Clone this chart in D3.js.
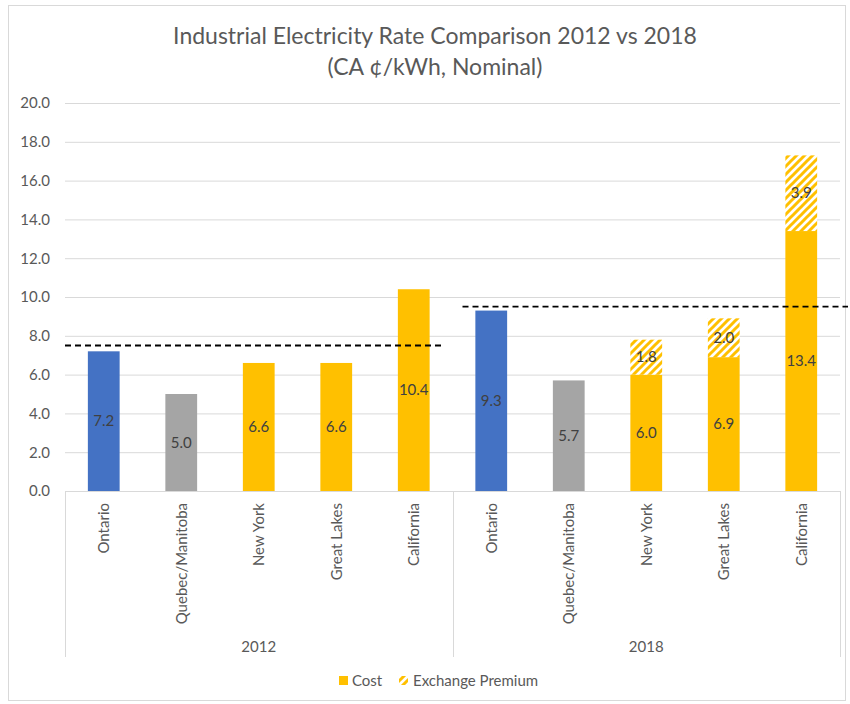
<!DOCTYPE html>
<html>
<head>
<meta charset="utf-8">
<script src="https://cdn.jsdelivr.net/npm/d3@7"></script>
<style>
  html, body { margin: 0; padding: 0; background: #fff; }
  text { font-family: Lato, "Open Sans", sans-serif; }
</style>
</head>
<body>
<svg id="chart" width="850" height="704"></svg>
<script>
const groups = ["2012", "2018"];
const categories = ["Ontario", "Quebec/Manitoba", "New York", "Great Lakes", "California"];
const cost2012 = [7.2, 5.0, 6.6, 6.6, 10.4];
const cost2018 = [9.3, 5.7, 6.0, 6.9, 13.4];
const premium2012 = [0, 0, 0, 0, 0];
const premium2018 = [0, 0, 1.8, 2.0, 3.9];
const averageLines = [7.5, 9.5];
const categoryColors = ["#4472C4", "#A5A5A5", "#FFC000", "#FFC000", "#FFC000"];
const yTicks = [0, 2, 4, 6, 8, 10, 12, 14, 16, 18, 20];
const titleLines = ["Industrial Electricity Rate Comparison 2012 vs 2018", "(CA \u00A2/kWh, Nominal)"];
const legendLabels = ["Cost", "Exchange Premium"];

(function () {
const svg = d3.select("#chart");
const W = 850, H = 704;
const mLeft = 65, mRight = 840, mTop = 103, mBottom = 491;

// frame
svg.append("rect").attr("x", 8.5).attr("y", 5.5).attr("width", W - 13).attr("height", H - 9)
  .attr("fill", "#fff").attr("stroke", "#D9D9D9").attr("stroke-width", 1);

// pattern
const defs = svg.append("defs");
const pat = defs.append("pattern").attr("id", "hatch").attr("patternUnits", "userSpaceOnUse")
  .attr("width", 8).attr("height", 8);
pat.append("rect").attr("width", 8).attr("height", 8).attr("fill", "#fff");
pat.append("path").attr("d", "M-2,2 L2,-2 M0,8 L8,0 M6,10 L10,6")
  .attr("stroke", "#FFC000").attr("stroke-width", 3);

// data rows
const rows = [];
groups.forEach((g, gi) => {
  const cost = gi === 0 ? cost2012 : cost2018;
  const prem = gi === 0 ? premium2012 : premium2018;
  categories.forEach((c, ci) => {
    rows.push({ key: g + "|" + c, group: g, cat: c, cost: cost[ci], prem: prem[ci], color: categoryColors[ci] });
  });
});

const x = d3.scaleBand().domain(rows.map(d => d.key)).range([mLeft, mRight]).padding(0);
const y = d3.scaleLinear().domain([0, 20]).range([mBottom, mTop]);
const bw = x.bandwidth() * 0.41;

// title
svg.append("g").selectAll("text").data(titleLines).join("text")
  .attr("x", 435).attr("y", (d, i) => 44 + i * 31)
  .attr("text-anchor", "middle").attr("fill", "#595959")
  .style("font-size", "23px").text(d => d);

// gridlines
svg.append("g").selectAll("line").data(yTicks.filter(t => t > 0)).join("line")
  .attr("x1", mLeft).attr("x2", mRight).attr("y1", d => y(d) + 0.5).attr("y2", d => y(d) + 0.5)
  .attr("stroke", "#D9D9D9").attr("stroke-width", 1);

// y axis labels
const yAxis = d3.axisLeft(y).tickValues(yTicks).tickFormat(d3.format(".1f")).tickSize(0).tickPadding(15);
const ya = svg.append("g").attr("transform", `translate(${mLeft},0)`).call(yAxis);
ya.select(".domain").remove();
ya.selectAll("text").attr("fill", "#595959").style("font-size", "15px").style("font-family", "Lato, sans-serif");

// bars - cost
const bars = svg.append("g");
bars.selectAll("rect.cost").data(rows).join("rect").attr("class", "cost")
  .attr("x", d => x(d.key) + (x.bandwidth() - bw) / 2)
  .attr("width", bw)
  .attr("y", d => y(d.cost))
  .attr("height", d => y(0) - y(d.cost))
  .attr("fill", d => d.color);

bars.selectAll("rect.prem").data(rows.filter(d => d.prem > 0)).join("rect").attr("class", "prem")
  .attr("x", d => x(d.key) + (x.bandwidth() - bw) / 2)
  .attr("width", bw)
  .attr("y", d => y(d.cost + d.prem))
  .attr("height", d => y(d.cost) - y(d.cost + d.prem))
  .attr("fill", "url(#hatch)");

// data labels
const labels = svg.append("g");
labels.selectAll("text.cl").data(rows).join("text").attr("class", "cl")
  .attr("x", d => x(d.key) + x.bandwidth() / 2)
  .attr("y", d => y(d.cost / 2)).attr("dy", "0.35em")
  .attr("text-anchor", "middle").attr("fill", "#404040").style("font-size", "15px")
  .text(d => d3.format(".1f")(d.cost));
labels.selectAll("text.pl").data(rows.filter(d => d.prem > 0)).join("text").attr("class", "pl")
  .attr("x", d => x(d.key) + x.bandwidth() / 2)
  .attr("y", d => y(d.cost + d.prem / 2)).attr("dy", "0.35em")
  .attr("text-anchor", "middle").attr("fill", "#404040").style("font-size", "15px")
  .text(d => d3.format(".1f")(d.prem));

// average dashed lines
const groupStart = g => x(g + "|" + categories[0]);
const groupEnd = g => x(g + "|" + categories[categories.length - 1]) + x.bandwidth();
const dashData = [
  { v: averageLines[0], x1: groupStart(groups[0]), x2: groupEnd(groups[0]) - 10 },
  { v: averageLines[1], x1: groupStart(groups[1]) + 10, x2: W - 2 }
];
svg.append("g").selectAll("line").data(dashData).join("line")
  .attr("x1", d => d.x1).attr("x2", d => d.x2)
  .attr("y1", d => y(d.v)).attr("y2", d => y(d.v))
  .attr("stroke", "#000").attr("stroke-width", 1.8).attr("stroke-dasharray", "6,4");

// category axis
const axisG = svg.append("g");
axisG.append("line").attr("x1", mLeft).attr("x2", mRight).attr("y1", mBottom + 0.5).attr("y2", mBottom + 0.5)
  .attr("stroke", "#D9D9D9");
const seps = [groupStart(groups[0]), groupEnd(groups[0]), groupEnd(groups[1])];
axisG.selectAll("line.sep").data(seps).join("line").attr("class", "sep")
  .attr("x1", d => Math.round(d) + 0.5).attr("x2", d => Math.round(d) + 0.5)
  .attr("y1", mBottom).attr("y2", 657).attr("stroke", "#D9D9D9");

axisG.selectAll("text.cat").data(rows).join("text").attr("class", "cat")
  .attr("transform", d => `translate(${x(d.key) + x.bandwidth() / 2},${mBottom + 12}) rotate(-90)`)
  .attr("text-anchor", "end").attr("dy", "0.35em")
  .attr("fill", "#595959").style("font-size", "15px")
  .text(d => d.cat);

axisG.selectAll("text.grp").data(groups).join("text").attr("class", "grp")
  .attr("x", g => (groupStart(g) + groupEnd(g)) / 2).attr("y", 652)
  .attr("text-anchor", "middle").attr("fill", "#595959").style("font-size", "15px")
  .text(d => d);

// legend
const lg = svg.append("g");
lg.append("rect").attr("x", 339).attr("y", 676).attr("width", 9).attr("height", 9).attr("fill", "#FFC000");
lg.append("text").attr("x", 352).attr("y", 686).attr("fill", "#595959").style("font-size", "15px").text(legendLabels[0]);
lg.append("rect").attr("x", 399).attr("y", 676).attr("width", 9).attr("height", 9).attr("fill", "url(#hatch)");
lg.append("text").attr("x", 413).attr("y", 686).attr("fill", "#595959").style("font-size", "15px").text(legendLabels[1]);
})();
</script>
</body>
</html>
